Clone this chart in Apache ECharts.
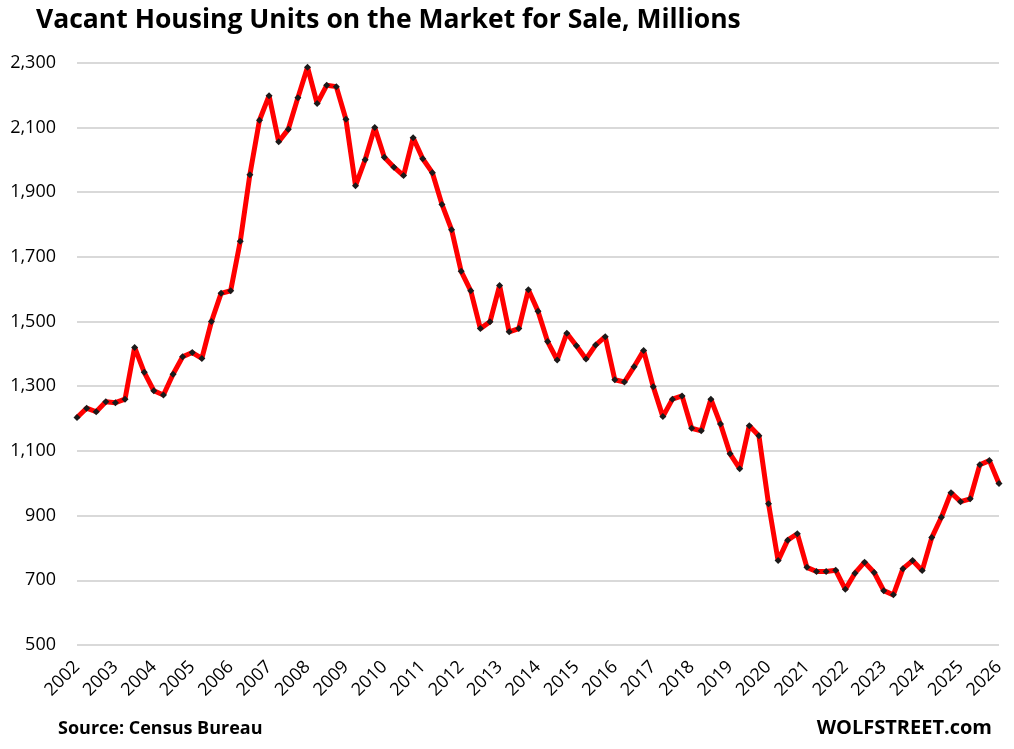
<!DOCTYPE html>
<html>
<head>
<meta charset="utf-8">
<script src="https://cdn.jsdelivr.net/npm/echarts@6/dist/echarts.min.js"></script>
<style>
html,body{margin:0;padding:0;background:#fff;}
#c{width:1014px;height:749px;}
</style>
</head>
<body>
<div id="c"></div>
<script>
// Quarterly categories 2002 Q1 .. 2026 Q1
var quarters = [];
for (var y = 2002; y <= 2026; y++) {
  for (var q = 1; q <= 4; q++) {
    if (y === 2026 && q > 1) break;
    quarters.push(y + ' Q' + q);
  }
}
// Vacant housing units for sale (thousands)
var vacantForSale = [
  1203, 1232, 1221, 1252, 1249, 1260, 1420, 1343, 1286, 1273, 1337, 1391, 1404, 1386, 1500, 1587,
  1595, 1748, 1954, 2122, 2198, 2056, 2094, 2192, 2286, 2174, 2230, 2226, 2125, 1920, 2000, 2100,
  2008, 1977, 1951, 2068, 2003, 1960, 1862, 1784, 1655, 1595, 1478, 1499, 1611, 1468, 1478, 1598,
  1532, 1438, 1381, 1464, 1425, 1384, 1427, 1453, 1320, 1313, 1360, 1410, 1298, 1206, 1260, 1270,
  1170, 1162, 1260, 1183, 1091, 1045, 1178, 1147, 937, 761, 824, 844, 740, 727, 727, 731,
  672, 722, 756, 724, 668, 655, 736, 761, 730, 832, 895, 971, 943, 952, 1057, 1070,
  999
];
var yTicks = [500, 700, 900, 1100, 1300, 1500, 1700, 1900, 2100, 2300];

var chart = echarts.init(document.getElementById('c'));
chart.setOption({
  backgroundColor: '#fff',
  animation: false,
  title: [{
    text: 'Vacant Housing Units on the Market for Sale, Millions',
    left: 31, top: 2,
    textStyle: {fontFamily: 'Open Sans', fontWeight: 'bold', fontSize: 26.5, color: '#000'}
  }],
  graphic: [
    {type: 'text', left: 58, top: 720, style: {text: 'Source: Census Bureau', font: 'bold 18px "Open Sans"', fill: '#000'}},
    {type: 'text', right: 22, top: 718, style: {text: 'WOLFSTREET.com', font: 'bold 20px "Open Sans"', fill: '#000'}}
  ],
  grid: {left: 77, right: 15, top: 62.7, bottom: 104, containLabel: false},
  xAxis: {
    type: 'category',
    data: quarters,
    boundaryGap: false,
    axisLine: {show: false},
    axisTick: {show: false},
    splitLine: {show: false},
    axisLabel: {
      interval: 3,
      rotate: 45,
      margin: 19,
      fontFamily: 'Open Sans',
      fontSize: 18,
      color: '#000',
      formatter: function (v) { return v.slice(0, 4); }
    }
  },
  yAxis: {
    type: 'value',
    min: yTicks[0],
    max: yTicks[yTicks.length - 1],
    interval: 200,
    axisLine: {show: false},
    axisTick: {show: false},
    splitLine: {lineStyle: {color: '#d9d9d9', width: 2}},
    axisLabel: {
      margin: 21,
      fontFamily: 'Open Sans',
      fontSize: 18,
      color: '#000',
      formatter: function (v) { return v.toLocaleString('en-US'); }
    }
  },
  series: [{
    type: 'line',
    data: vacantForSale,
    lineStyle: {color: '#ff0000', width: 5},
    symbol: 'diamond',
    symbolSize: 7,
    showAllSymbol: true,
    itemStyle: {color: '#1a1a1a', borderWidth: 0},
    emphasis: {disabled: true}
  }]
});
</script>
</body>
</html>
